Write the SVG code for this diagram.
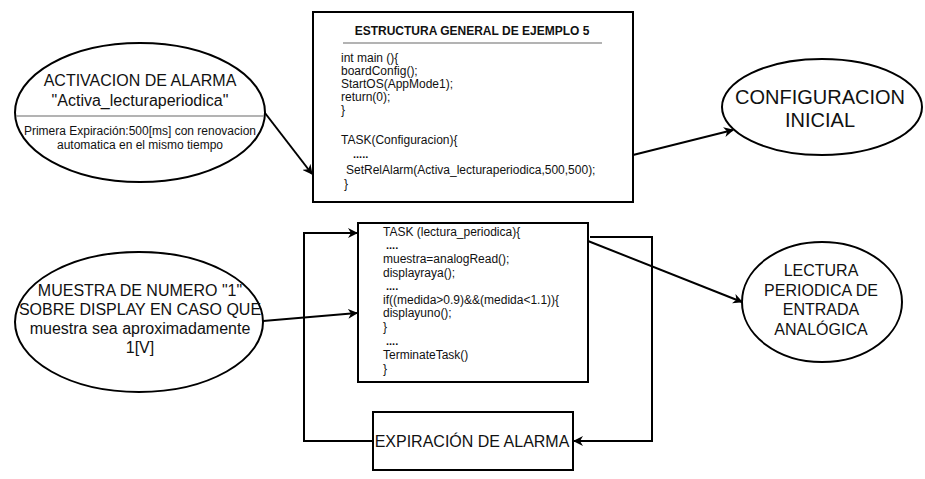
<svg xmlns="http://www.w3.org/2000/svg" width="925" height="479" viewBox="0 0 925 479">
<defs>
<style>
.shape{fill:#fff;stroke:#000;stroke-width:2}
.sep{stroke:#9a9a9a;stroke-width:1.5;fill:none}
.conn{fill:none;stroke:#000;stroke-width:2}
.t16{font-family:"Liberation Sans",Arial,sans-serif;font-size:16px;fill:#111;text-anchor:middle}
.t20{font-family:"Liberation Sans",Arial,sans-serif;font-size:20px;fill:#111;text-anchor:middle}
.t12{font-family:"Liberation Sans",Arial,sans-serif;font-size:12px;fill:#111;text-anchor:middle}
.code{font-family:"Liberation Sans",Arial,sans-serif;font-size:12px;fill:#111}
.title{font-family:"Liberation Sans",Arial,sans-serif;font-size:12px;font-weight:bold;fill:#111;text-anchor:middle}
.dots{font-family:"Liberation Sans",Arial,sans-serif;font-size:11px;font-weight:bold;fill:#111}
</style>
<marker id="arr" viewBox="0 0 10 10" refX="9" refY="5" markerWidth="10" markerHeight="10" markerUnits="userSpaceOnUse" orient="auto">
<path d="M0,0 L10,5 L0,10 L3,5 z" fill="#000"/>
</marker>
</defs>

<g id="connectors">
<line class="conn" x1="265" y1="113" x2="312" y2="174" marker-end="url(#arr)"/>
<line class="conn" x1="633" y1="155" x2="733" y2="130" marker-end="url(#arr)"/>
<line class="conn" x1="263" y1="321" x2="357" y2="313" marker-end="url(#arr)"/>
<polyline class="conn" points="373,441 304,441 304,233 357,233" marker-end="url(#arr)"/>
<line class="conn" x1="588" y1="241" x2="742" y2="302" marker-end="url(#arr)"/>
<polyline class="conn" points="590,237 652,237 652,441 574,441" marker-end="url(#arr)"/>
</g>

<g id="node-activacion">
<ellipse class="shape" cx="140" cy="112.5" rx="125" ry="69.5"/>
<line class="sep" x1="16" y1="116" x2="264" y2="116"/>
<text class="t16" x="140" y="86">ACTIVACION DE ALARMA</text>
<text class="t16" x="140" y="106">"Activa_lecturaperiodica"</text>
<text class="t12" x="140" y="135">Primera Expiración:500[ms] con renovacion</text>
<text class="t12" x="140" y="149">automatica en el mismo tiempo</text>
</g>

<g id="node-estructura">
<rect class="shape" x="313" y="12" width="320" height="190"/>
<text class="title" x="472" y="35">ESTRUCTURA GENERAL DE EJEMPLO 5</text>
<line class="sep" x1="343" y1="43" x2="602" y2="43"/>
<text class="code" x="341" y="62">int main (){</text>
<text class="code" x="341" y="75">boardConfig();</text>
<text class="code" x="341" y="88">StartOS(AppMode1);</text>
<text class="code" x="341" y="101">return(0);</text>
<text class="code" x="341" y="114">}</text>
<text class="code" x="341" y="144">TASK(Configuracion){</text>
<text class="dots" x="353" y="158">.....</text>
<text class="code" x="346" y="174">SetRelAlarm(Activa_lecturaperiodica,500,500);</text>
<text class="code" x="344" y="188">}</text>
</g>

<g id="node-configuracion">
<ellipse class="shape" cx="822" cy="107" rx="100" ry="48"/>
<text class="t20" x="820" y="104">CONFIGURACION</text>
<text class="t20" x="820" y="127">INICIAL</text>
</g>

<g id="node-muestra">
<ellipse class="shape" cx="139" cy="322" rx="124" ry="70"/>
<text class="t16" x="140" y="296">MUESTRA DE NUMERO "1"</text>
<text class="t16" x="140" y="315">SOBRE DISPLAY EN CASO QUE</text>
<text class="t16" x="140" y="334">muestra sea aproximadamente</text>
<text class="t16" x="140" y="353">1[V]</text>
</g>

<g id="node-task">
<rect class="shape" x="358" y="223" width="230" height="159"/>
<text class="code" x="383" y="236">TASK (lectura_periodica){</text>
<text class="dots" x="386" y="249">....</text>
<text class="code" x="383" y="263">muestra=analogRead();</text>
<text class="code" x="383" y="277">displayraya();</text>
<text class="dots" x="386" y="290">....</text>
<text class="code" x="383" y="304">if((medida&gt;0.9)&amp;&amp;(medida&lt;1.1)){</text>
<text class="code" x="383" y="317">displayuno();</text>
<text class="code" x="383" y="331">}</text>
<text class="dots" x="386" y="345">....</text>
<text class="code" x="383" y="359">TerminateTask()</text>
<text class="code" x="383" y="373">}</text>
</g>

<g id="node-lectura">
<ellipse class="shape" cx="822" cy="302" rx="80" ry="60"/>
<text class="t16" x="821" y="276">LECTURA</text>
<text class="t16" x="821" y="296">PERIODICA DE</text>
<text class="t16" x="821" y="315">ENTRADA</text>
<text class="t16" x="821" y="335">ANALÓGICA</text>
</g>

<g id="node-expiracion">
<rect class="shape" x="373" y="412" width="200" height="58"/>
<text class="t16" x="472" y="447">EXPIRACIÓN DE ALARMA</text>
</g>
</svg>
